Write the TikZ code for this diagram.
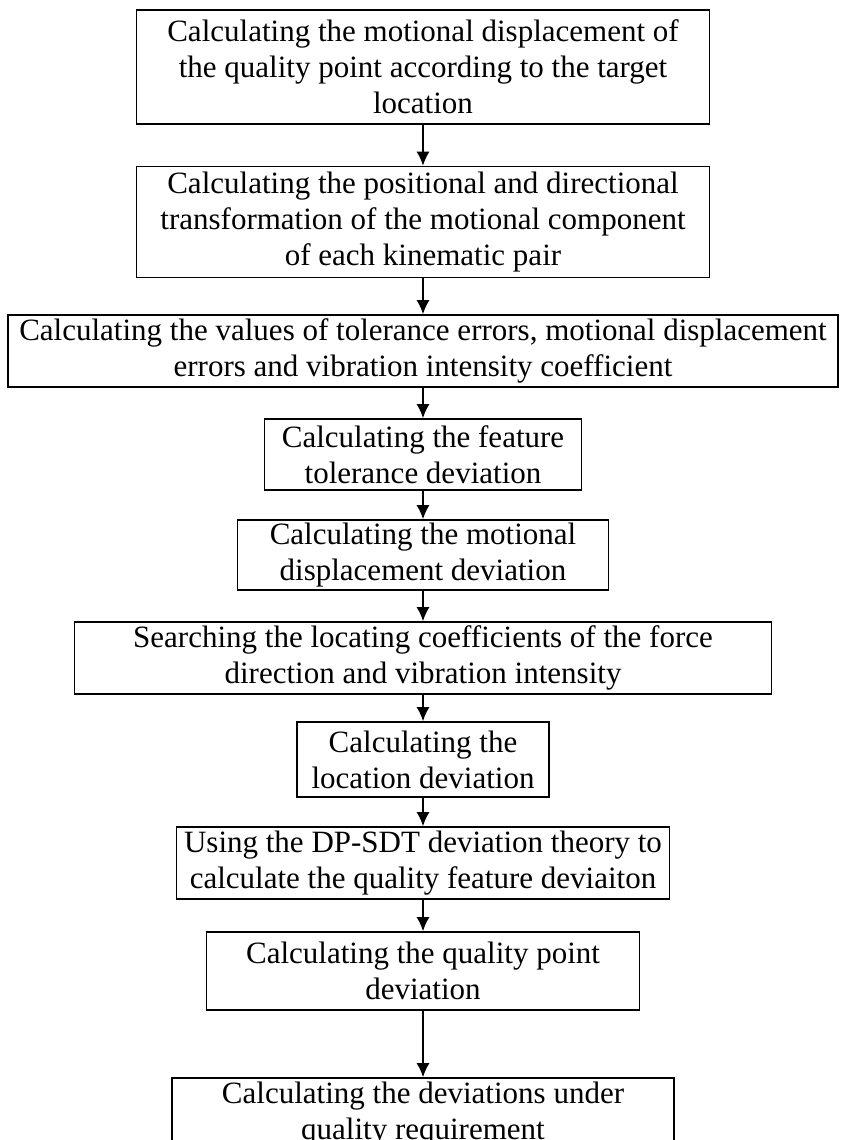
\documentclass[tikz,border=0pt]{standalone}
\usepackage{fontspec}
\setmainfont{Liberation Serif}
\usetikzlibrary{positioning, arrows.meta}

\begin{document}
\begin{tikzpicture}[
	x=1pt, y=-1pt,
	process/.style={
		rectangle,
		draw=black,
		line width=1.6pt,
		fill=white,
		align=center,
		inner sep=0pt,
		font=\fontsize{31}{36}\selectfont,
		minimum height=72pt
	},
	flow/.style={
		line width=1.6pt,
		-{Latex[length=14pt, width=13pt]}
	}
	]
	\useasboundingbox (0,0) rectangle (847,1140);

	% Steps from the target location down to the quality requirement
	\node[process, minimum width=573pt, minimum height=114pt] (TargetDisp) at (423,67) {Calculating the motional displacement of\\ the quality point according to the target\\ location};
	\node[process, minimum width=573pt, minimum height=111pt] (PairTrans) at (423,222) {Calculating the positional and directional\\ transformation of the motional component\\ of each kinematic pair};
	\node[process, minimum width=830pt] (ErrorValues) at (423,351) {Calculating the values of tolerance errors, motional displacement\\ errors and vibration intensity coefficient};
	\node[process, minimum width=317pt, minimum height=71pt] (FeatureTol) at (423,454.5) {Calculating the feature\\ tolerance deviation};
	\node[process, minimum width=371pt, minimum height=70pt] (MotionDev) at (423,555) {Calculating the motional\\ displacement deviation};
	\node[process, minimum width=697pt] (LocCoeff) at (423,658) {Searching the locating coefficients of the force\\ direction and vibration intensity};
	\node[process, minimum width=252pt, minimum height=75pt] (LocDev) at (423,759.5) {Calculating the\\ location deviation};
	\node[process, minimum width=493pt] (DPSDT) at (423,863) {Using the DP-SDT deviation theory to\\ calculate the quality feature deviaiton};
	\node[process, minimum width=433pt, minimum height=78pt] (QualityPoint) at (423,971) {Calculating the quality point\\ deviation};
	\node[process, minimum width=502pt] (QualityReq) at (423,1114) {Calculating the deviations under\\ quality requirement};

	\draw[flow] (TargetDisp) -- (PairTrans);
	\draw[flow] (PairTrans) -- (ErrorValues);
	\draw[flow] (ErrorValues) -- (FeatureTol);
	\draw[flow] (FeatureTol) -- (MotionDev);
	\draw[flow] (MotionDev) -- (LocCoeff);
	\draw[flow] (LocCoeff) -- (LocDev);
	\draw[flow] (LocDev) -- (DPSDT);
	\draw[flow] (DPSDT) -- (QualityPoint);
	\draw[flow] (QualityPoint) -- (QualityReq);
\end{tikzpicture}
\end{document}
